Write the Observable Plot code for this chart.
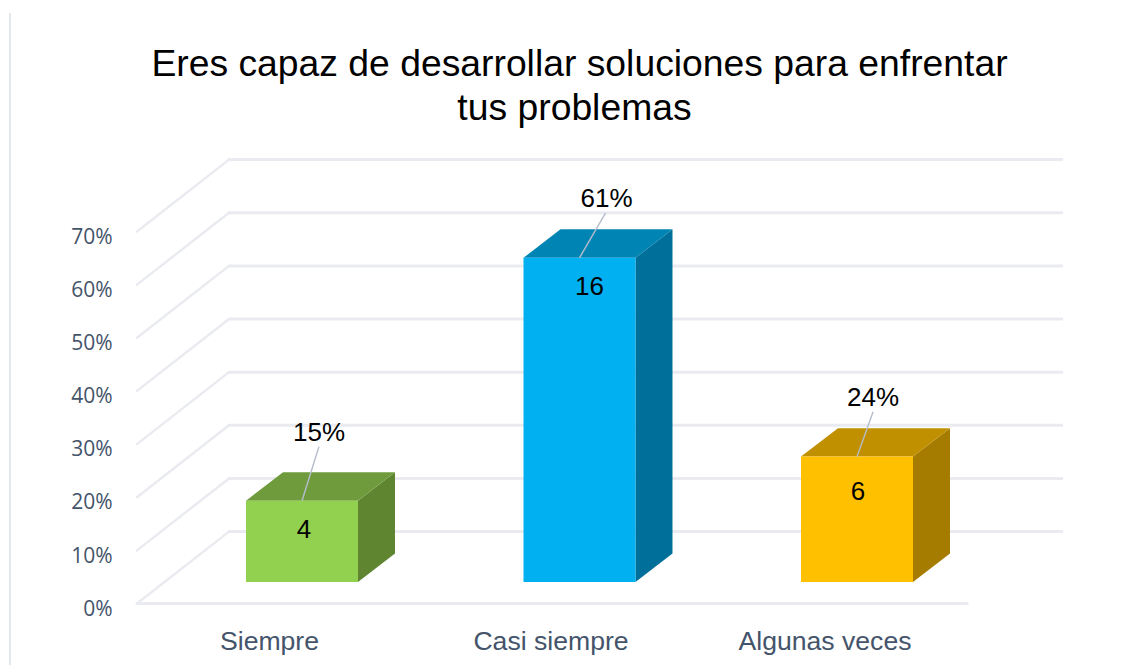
<!DOCTYPE html>
<html lang="es">
<head>
<meta charset="utf-8">
<script src="https://cdn.jsdelivr.net/npm/d3@7"></script>
<script src="https://cdn.jsdelivr.net/npm/@observablehq/plot@0.6"></script>
<style>
  html, body { margin: 0; padding: 0; background: #fff; }
  #page { position: relative; width: 1129px; height: 665px; overflow: hidden; }
  #edge { position: absolute; left: 9px; top: 13px; bottom: 0; width: 2px; background: #e3e7ee; }
  #title { position: absolute; left: 0; top: 41px; width: 1159px; text-align: center;
           font: 37.3px/44px "Liberation Sans", Arial, sans-serif; color: #000; }
  #title span { position: relative; left: -5px; }
  #chart { position: absolute; left: 0; top: 140px; }
  #chart svg { display: block; }
</style>
</head>
<body>
<div id="page">
  <div id="edge"></div>
  <div id="title">Eres capaz de desarrollar soluciones para enfrentar<br><span>tus problemas</span></div>
  <div id="chart"></div>
</div>
<script>
const categories = ["Siempre", "Casi siempre", "Algunas veces"];
const heights = [15.3, 61, 23.6];
const counts = ["4", "16", "6"];
const percents = ["15%", "61%", "24%"];
const frontColors = ["#92d050", "#00b0f0", "#ffc000"];
const topColors = ["#6f9b3d", "#0084b4", "#c09000"];
const sideColors = ["#5f8531", "#00709a", "#a57c00"];
const yTicks = [0, 10, 20, 30, 40, 50, 60, 70];

// Pseudo-3D geometry, in scale units (categories on x, percent on y).
const floorLeft = -0.5946, floorRight = 2.397, wallLeft = -0.263, wallRight = 2.738, wallDY = 13.53;
const barHalf = 0.2018, barDX = 0.1333, barDY = 5.36, barBase = 4.04;
const leader = [[0.061, 10.15], [0.094, 8.46], [0.058, 8.46]];
const countPlacement = [[2, 29], [10, 29], [1, 35]];
const percentPlacement = [[17, -68], [27, -59], [16, -59]];
const categoryShift = [-32.5, -28.5, -32];

const gridColor = "#e9ebf0";
const face = (points, fill) => Plot.line(points, {x: "x", y: "y", fill, stroke: "none", curve: "linear"});

const wall = yTicks.map(v => Plot.line(
  [{x: wallRight, y: v + wallDY}, {x: wallLeft, y: v + wallDY}],
  {x: "x", y: "y", stroke: gridColor, strokeWidth: 3}));
const slants = yTicks.map(v => Plot.line(
  [{x: wallLeft, y: v + wallDY}, {x: floorLeft, y: v}],
  {x: "x", y: "y", stroke: gridColor, strokeWidth: 2.4}));
const floor = Plot.line(
  [{x: floorLeft, y: 0}, {x: floorRight, y: 0}],
  {x: "x", y: "y", stroke: gridColor, strokeWidth: 3});

const bars = categories.flatMap((c, i) => {
  const L = i - barHalf, R = i + barHalf, T = barBase + heights[i], B = barBase;
  return [
    face([{x: R, y: B}, {x: R + barDX, y: B + barDY}, {x: R + barDX, y: T + barDY}, {x: R, y: T}], sideColors[i]),
    face([{x: L, y: T}, {x: R, y: T}, {x: R + barDX, y: T + barDY}, {x: L + barDX, y: T + barDY}], topColors[i]),
    face([{x: L, y: B}, {x: R, y: B}, {x: R, y: T}, {x: L, y: T}], frontColors[i])
  ];
});

const labels = categories.flatMap((c, i) => {
  const T = barBase + heights[i];
  const at = [{x: i, y: T}];
  return [
    Plot.link(at, {x1: "x", y1: "y", x2: d => d.x + leader[i][0], y2: d => d.y + leader[i][1],
      stroke: "#b5bdcb", strokeWidth: 1.4}),
    Plot.text(at, {x: "x", y: "y", text: () => counts[i], dx: countPlacement[i][0], dy: countPlacement[i][1],
      fontFamily: "Liberation Sans, Arial, sans-serif", fontSize: 26, fill: "#000"}),
    Plot.text(at, {x: "x", y: "y", text: () => percents[i], dx: percentPlacement[i][0], dy: percentPlacement[i][1],
      fontFamily: "Liberation Sans, Arial, sans-serif", fontSize: 26, fill: "#000"})
  ];
});

const xAxes = categories.map((c, i) => Plot.axisX({
  ticks: [i], tickFormat: () => c, tickSize: 0, tickPadding: 28, dx: categoryShift[i],
  fontFamily: "Liberation Sans, Arial, sans-serif", fontSize: 26.6, fill: "#44546a", label: null, anchor: "bottom"
}));

const svg = Plot.plot({
  width: 1129, height: 525,
  marginLeft: 112, marginRight: 0, marginTop: 0, marginBottom: 62,
  style: {background: "transparent", overflow: "visible"},
  x: {type: "linear", domain: [0, 2], range: [301.5, 856.5]},
  y: {type: "linear", domain: [0, 70], range: [463, 91]},
  marks: [
    ...wall, ...slants, floor,
    ...bars,
    ...labels,
    Plot.axisY({
      ticks: yTicks, tickFormat: d => d + "%", tickSize: 0, tickPadding: 0, dy: 5.5, label: null, anchor: "left",
      fontFamily: "Open Sans, sans-serif", fontSize: 21, fill: "#44546a"
    }),
    ...xAxes
  ]
});
document.getElementById("chart").appendChild(svg);
</script>
</body>
</html>
